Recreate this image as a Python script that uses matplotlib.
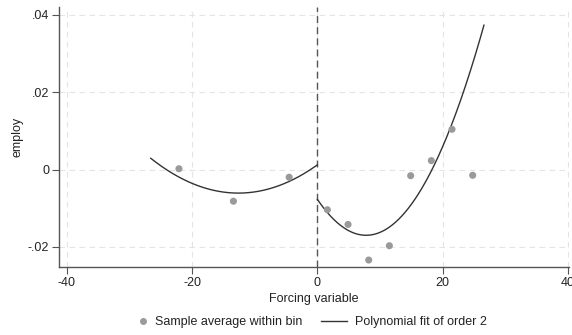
import numpy as np
import matplotlib
matplotlib.use("Agg")
import matplotlib.pyplot as plt
from matplotlib.lines import Line2D
from matplotlib.legend_handler import HandlerLine2D

# Bin averages
bin_x = [-22.1, -13.4, -4.5, 1.6, 4.9, 8.2, 11.5, 14.9, 18.2, 21.5, 24.8]
bin_y = [0.0002, -0.0082, -0.0020, -0.0104, -0.0142, -0.0234, -0.0197, -0.0016, 0.0023, 0.0104, -0.0015]

# Points read along each fitted quadratic (left and right of cutoff)
left_fit_x = [-26.6, -12.5, 0.0]
left_fit_y = [0.0029, -0.0061, 0.0012]
right_fit_x = [0.0, 7.7, 26.6]
right_fit_y = [-0.0077, -0.0170, 0.0373]

x_ticks = [-40, -20, 0, 20, 40]
x_ticklabels = ["-40", "-20", "0", "20", "40"]
y_ticks = [-0.02, 0, 0.02, 0.04]
y_ticklabels = ["-.02", "0", ".02", ".04"]

plt.rcParams['font.family'] = ['Liberation Sans', 'DejaVu Sans']

fig = plt.figure(figsize=(5.72, 3.35), dpi=100)
W, H = 572, 335
ax = fig.add_axes([59 / W, 1 - 267 / H, (568.5 - 59) / W, (267 - 7) / H])

grid_kw = dict(color="#e4e4e4", lw=0.8, ls=(0, (5, 4)), zorder=0)
for t in x_ticks:
    ax.axvline(t, **grid_kw)
for t in y_ticks:
    ax.axhline(t, **grid_kw)

ax.axvline(0, color="#555555", lw=1.0, ls=(0, (5, 3)), zorder=1)

ax.scatter(bin_x, bin_y, s=26, color="#9a9a9a", edgecolors="none", zorder=3)

cl = np.polyfit(left_fit_x, left_fit_y, 2)
xl = np.linspace(left_fit_x[0], left_fit_x[-1], 200)
ax.plot(xl, np.polyval(cl, xl), color="#333333", lw=1.0, zorder=2)
cr = np.polyfit(right_fit_x, right_fit_y, 2)
xr = np.linspace(right_fit_x[0], right_fit_x[-1], 200)
ax.plot(xr, np.polyval(cr, xr), color="#333333", lw=1.0, zorder=2)

ax.set_xlim(-41.25, 40.1)
ax.set_ylim(-0.0252, 0.042)
ax.set_xticks(x_ticks)
ax.set_xticklabels(x_ticklabels)
ax.set_yticks(y_ticks)
ax.set_yticklabels(y_ticklabels)
ax.tick_params(axis="both", labelsize=9, length=5, width=0.8, color="#555555", labelcolor="#222222", pad=2)

for s in ["top", "right"]:
    ax.spines[s].set_visible(False)
for s in ["left", "bottom"]:
    ax.spines[s].set_color("#555555")
    ax.spines[s].set_linewidth(1.0)

ax.set_xlabel("Forcing variable", fontsize=9, color="#222222", labelpad=3)
ax.set_ylabel("employ", fontsize=9, color="#222222", labelpad=3)


class MarkerRight(HandlerLine2D):
    def get_xdata(self, legend, xdescent, ydescent, width, height, fontsize):
        right = -xdescent + width
        return [right - 6, right], [right - 3]


handles = [
    Line2D([], [], marker="o", ls="none", color="#9a9a9a", markersize=5, markeredgewidth=0),
    Line2D([], [], color="#333333", lw=1.0),
]
fig.legend(handles, ["Sample average within bin", "Polynomial fit of order 2"],
           loc="center left", bbox_to_anchor=(121 / W, 1 - 322 / H), ncol=2, frameon=False,
           fontsize=9, handlelength=2.1, columnspacing=1.5, handletextpad=0.6,
           borderpad=0, borderaxespad=0, labelcolor="#222222",
           handler_map={handles[0]: MarkerRight()})

fig.savefig("out.png", dpi=100)
